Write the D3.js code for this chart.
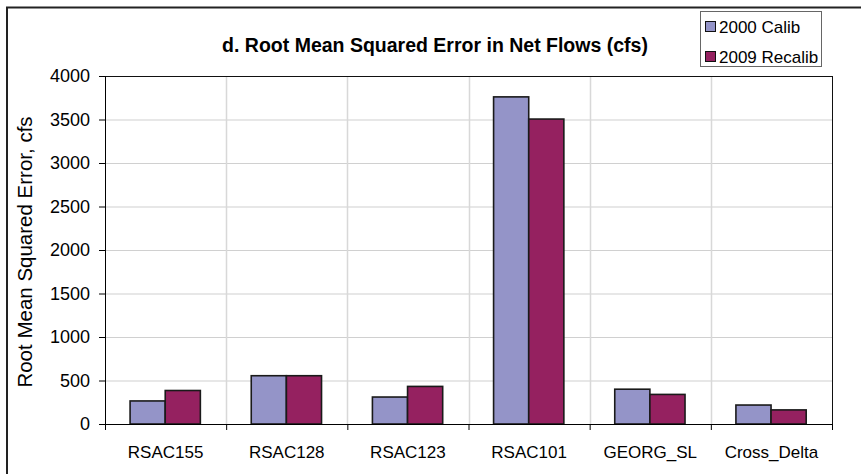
<!DOCTYPE html>
<html lang="en">
<head>
    <meta charset="UTF-8">
    <title>RMSE in Net Flows</title>
    <style>
        body { margin: 0; background: #fff; }
        text { font-family: "Liberation Sans", Arial, sans-serif; }
    </style>
</head>
<script src="https://d3js.org/d3.v7.min.js"></script>
<body>
<script>
    var categories = ["RSAC155", "RSAC128", "RSAC123", "RSAC101", "GEORG_SL", "Cross_Delta"];
    var seriesNames = ["2000 Calib", "2009 Recalib"];
    var calib2000 = [265, 555, 310, 3760, 400, 218];
    var recalib2009 = [385, 555, 432, 3505, 340, 162];
    var yTicks = [0, 500, 1000, 1500, 2000, 2500, 3000, 3500, 4000];
    var colors = ["#9494c8", "#952160"];

    var width = 861, height = 474;
    var margin = {top: 76, right: 29, bottom: 50, left: 105};
    var plotW = width - margin.left - margin.right,
        plotH = height - margin.top - margin.bottom;

    var svg = d3.select("body").append("svg")
        .attr("width", width)
        .attr("height", height);

    // outer chart frame (runs off the right and bottom of the image)
    svg.append("rect")
        .attr("x", 7).attr("y", 7.5)
        .attr("width", 900).attr("height", 500)
        .attr("fill", "none").attr("stroke", "#222").attr("stroke-width", 2);

    var g = svg.append("g")
        .attr("transform", "translate(" + margin.left + "," + margin.top + ")");

    var x0 = d3.scaleBand().domain(categories).range([0, plotW]).padding(0);
    var x1 = d3.scaleBand().domain(seriesNames)
        .range([x0.bandwidth() * 0.207, x0.bandwidth() * 0.787]).padding(0);
    var y = d3.scaleLinear().domain([0, 4000]).range([plotH, 0]);

    // horizontal gridlines
    g.append("g").selectAll("line")
        .data(yTicks.slice(1))
        .enter().append("line")
        .attr("x1", 0).attr("x2", plotW)
        .attr("y1", function (d) { return y(d) + 0.5; })
        .attr("y2", function (d) { return y(d) + 0.5; })
        .attr("stroke", "#d0d0d0").attr("stroke-width", 1.2);

    // vertical gridlines between categories
    g.append("g").selectAll("line")
        .data(categories.slice(1))
        .enter().append("line")
        .attr("x1", function (d) { return Math.round(x0(d)) + 0.5; })
        .attr("x2", function (d) { return Math.round(x0(d)) + 0.5; })
        .attr("y1", 0).attr("y2", plotH)
        .attr("stroke", "#d8d8d8").attr("stroke-width", 1.5);

    // plot area border
    g.append("rect")
        .attr("x", 0.5).attr("y", 0.5)
        .attr("width", plotW).attr("height", plotH)
        .attr("fill", "none").attr("stroke", "#111").attr("stroke-width", 1);

    // bars
    var data = categories.map(function (c, i) {
        return {cat: c, values: [calib2000[i], recalib2009[i]]};
    });
    var groups = g.selectAll(".grp")
        .data(data)
        .enter().append("g")
        .attr("class", "grp")
        .attr("transform", function (d) { return "translate(" + x0(d.cat) + ",0)"; });
    groups.selectAll("rect")
        .data(function (d) {
            return d.values.map(function (v, j) { return {s: seriesNames[j], v: v, j: j}; });
        })
        .enter().append("rect")
        .attr("x", function (d) { return x1(d.s); })
        .attr("y", function (d) { return y(d.v); })
        .attr("width", x1.bandwidth())
        .attr("height", function (d) { return plotH - y(d.v); })
        .attr("fill", function (d) { return colors[d.j]; })
        .attr("stroke", "#1a1a1a").attr("stroke-width", 1.6);

    // y axis
    var yAxis = g.append("g")
        .call(d3.axisLeft(y).tickValues(yTicks).tickFormat(d3.format("d"))
            .tickSize(6).tickPadding(9));
    yAxis.select(".domain").attr("stroke", "#000");
    yAxis.selectAll("text").attr("font-size", "18px").attr("fill", "#000")
        .style("font-family", "'Liberation Sans', Arial, sans-serif");

    // x axis with ticks at category boundaries
    var xAxis = g.append("g")
        .attr("transform", "translate(0," + plotH + ")")
        .call(d3.axisBottom(x0).tickSize(0).tickPadding(22));
    xAxis.select(".domain").attr("stroke", "#000");
    xAxis.selectAll("text").attr("font-size", "17px").attr("fill", "#000")
        .style("font-family", "'Liberation Sans', Arial, sans-serif");
    xAxis.selectAll(".bound")
        .data(categories.concat(["end"]))
        .enter().append("line")
        .attr("x1", function (d, i) { return i * x0.bandwidth() + 0.5; })
        .attr("x2", function (d, i) { return i * x0.bandwidth() + 0.5; })
        .attr("y1", 0).attr("y2", 6)
        .attr("stroke", "#000");

    // y axis title
    svg.append("text")
        .attr("transform", "translate(32," + (margin.top + plotH / 2 + 2) + ") rotate(-90)")
        .attr("text-anchor", "middle")
        .attr("font-size", "20.5px")
        .text("Root Mean Squared Error, cfs");

    // chart title
    svg.append("text")
        .attr("x", 435).attr("y", 52)
        .attr("text-anchor", "middle")
        .attr("font-size", "19.5px")
        .attr("font-weight", "bold")
        .text("d. Root Mean Squared Error in Net Flows (cfs)");

    // legend
    var legend = svg.append("g").attr("transform", "translate(700,11)");
    legend.append("rect")
        .attr("x", 0.5).attr("y", 0.5)
        .attr("width", 121).attr("height", 55)
        .attr("fill", "#fff").attr("stroke", "#666").attr("stroke-width", 1);
    seriesNames.forEach(function (s, i) {
        var ly = 16 + i * 30;
        legend.append("rect")
            .attr("x", 5.5).attr("y", ly - 5.5)
            .attr("width", 10).attr("height", 10)
            .attr("fill", colors[i]).attr("stroke", "#111").attr("stroke-width", 1);
        legend.append("text")
            .attr("x", 19).attr("y", ly + 6)
            .attr("font-size", "17px")
            .text(s);
    });
</script>
</body>
</html>
